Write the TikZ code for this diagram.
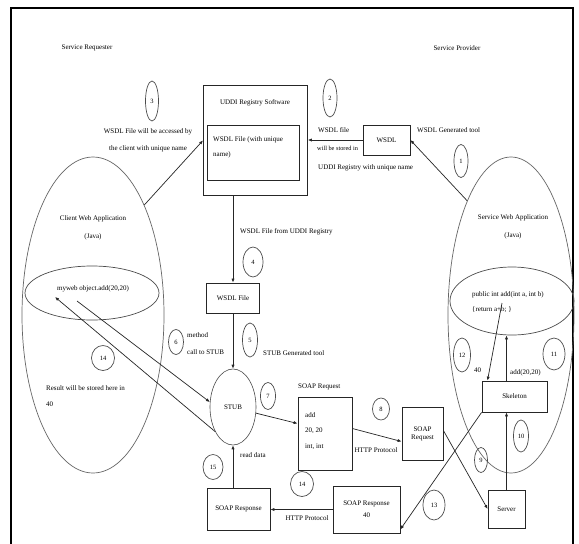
\documentclass[tikz,border=0pt]{standalone}
\usepackage{fontspec}
\setmainfont{Liberation Serif}
\usetikzlibrary{shapes.geometric,arrows.meta}
\begin{document}
\begin{tikzpicture}[x=1pt,y=-1pt,
 txt/.style={font=\fontsize{7}{8}\selectfont, inner sep=0pt},
 box/.style={draw=black!85, line width=0.8pt, inner sep=1pt, font=\fontsize{7}{8}\selectfont, align=center},
 badge/.style={draw=black!70, ellipse, line width=0.7pt, inner sep=0pt, font=\fontsize{6.5}{7}\selectfont},
 bigell/.style={draw=black!60, ellipse, line width=0.7pt, inner sep=0pt},
 arr/.style={draw=black!85, line width=0.7pt, -{Latex[length=4pt,width=3.2pt]}}]
\useasboundingbox (0,0) rectangle (579,544);
\clip (0,0) rectangle (579,544);
\fill[white] (0,0) rectangle (579,544);
\draw[line width=1.4pt] (11,8) rectangle (573,560);

% headings
\node[txt] (sreq) at (87,48) {Service Requester};
\node[txt] (sprov) at (457,48) {Service Provider};

% big ellipses
\node[bigell, minimum width=142, minimum height=316] (cweb) at (93,315) {};
\node[bigell, minimum width=126, minimum height=316] (sweb) at (511,315) {};
\node[txt] (cwebt1) at (93,219) {Client Web Application};
\node[txt] (cwebt2) at (93,237) {(Java)};
\node[txt] (swebt1) at (513,218) {Service Web Application};
\node[txt] (swebt2) at (513,236) {(Java)};

% inner ellipses
\node[bigell, draw=black!70, minimum width=134, minimum height=54] (cin) at (92,293) {};
\node[txt] (cint) at (93,289) {myweb object.add(20,20)};
\node[bigell, draw=black!70, minimum width=124, minimum height=68] (sin) at (512,301) {};
\node[txt, anchor=west] (sint1) at (472,295) {public int add(int a, int b)};
\node[txt, anchor=west] (sint2) at (472,310) {\{return a+b; \}};

% UDDI registry
\node[box, anchor=north west, minimum width=104, minimum height=110] (uddi) at (203,85) {};
\node[txt] (uddit) at (255,103) {UDDI Registry Software};
\node[box, anchor=north west, minimum width=92, minimum height=55] (uddiin) at (207,125) {};
\node[txt, anchor=north west, align=left, font=\fontsize{7}{15}\selectfont] (uddiint) at (213,136) {WSDL File (with unique\\name)};

% WSDL generation
\node[box, minimum width=47, minimum height=30] (wsdl) at (386.5,140) {WSDL};
\draw[arr] (wsdl.west) -- (wsdl.west -| uddi.east);
\node[txt, anchor=west] (l2a) at (318,130) {WSDL file};
\node[txt, anchor=west, font=\fontsize{6.3}{7}\selectfont] (l2b) at (317,148) {will be stored in};
\node[txt, anchor=west] (l2c) at (318,168) {UDDI Registry with unique name};
\node[txt, anchor=west] (l1) at (417,130) {WSDL Generated tool};
\node[badge, minimum width=14, minimum height=38] (b2) at (330,98) {2};
\draw[arr] (sweb.111) -- (wsdl.east);
\node[badge, minimum width=14, minimum height=33] (b1) at (461,161) {1};

% client access
\draw[arr] (cweb.65) -- (uddi.west);
\node[badge, minimum width=13, minimum height=40] (b3) at (152,101) {3};
\node[txt] (l3a) at (148,132) {WSDL File will be accessed by};
\node[txt] (l3b) at (148,149) {the client with unique name};

% WSDL file & STUB
\node[box, minimum width=53, minimum height=30] (wsdlf) at (233,298) {WSDL File};
\draw[arr] (uddi.south -| wsdlf.north) -- (wsdlf.north);
\node[txt, anchor=west] (l4) at (240,232) {WSDL File from UDDI Registry};
\node[badge, minimum width=20, minimum height=30] (b4) at (253,262) {4};
\node[draw=black!70, ellipse, line width=0.6pt, inner sep=0pt, minimum width=46, minimum height=76, font=\fontsize{7}{8}\selectfont] (stub) at (233,407) {STUB};
\draw[arr] (wsdlf.south) -- (stub.north);
\node[badge, minimum width=15, minimum height=34] (b5) at (250,340) {5};
\node[txt, anchor=west] (l5) at (263,353) {STUB Generated tool};

% method call / result
\coordinate (m6) at (77,301);
\coordinate (r15) at (55,297);
\draw[arr] (m6) -- (stub.168);
\draw[arr] (stub.234) -- (r15);
\node[badge, minimum width=15, minimum height=25] (b6) at (176,342) {6};
\node[txt, anchor=west] (l6a) at (187,335) {method};
\node[txt, anchor=west] (l6b) at (187,352) {call to STUB};
\node[badge, minimum width=23, minimum height=25] (b14a) at (103,358) {14};
\node[txt, anchor=west] (l14a) at (46,388) {Result will be stored here in};
\node[txt, anchor=west] (l14b) at (46,404) {40};

% SOAP request
\node[txt, anchor=west] (lsr) at (298,387) {SOAP Request};
\node[box, minimum width=54, minimum height=73] (soapreq) at (325,433.5) {};
\node[txt, anchor=north west, align=left, font=\fontsize{7}{15.5}\selectfont] (soapreqt) at (305,412) {add\\20, 20\\int, int};
\draw[arr] (stub.-15) -- ([yshift=10pt]soapreq.west);
\node[badge, minimum width=15, minimum height=27] (b7) at (268,396) {7};
\node[box, minimum width=41, minimum height=53] (soapreq2) at (422.5,433.5) {SOAP\\Request};
\draw[arr] ([yshift=5pt]soapreq.east) -- ([yshift=-8pt]soapreq2.west);
\node[txt] (l8) at (376,450) {HTTP Protocol};
\node[badge, minimum width=17, minimum height=22] (b8) at (381,409) {8};

% server side
\node[box, minimum width=37, minimum height=38] (server) at (506.5,509) {Server};
\node[box, minimum width=65, minimum height=31] (skel) at (514.5,396.5) {Skeleton};
\draw[arr] ([yshift=3pt]soapreq2.east) -- (server.west);
\node[badge, minimum width=13, minimum height=25] (b9) at (481,460) {9};
\draw[arr] (server.north) -- (server.north |- skel.south);
\node[badge, minimum width=15, minimum height=32] (b10) at (521,436) {10};
\coordinate (s11) at ([xshift=-8pt]skel.north);
\draw[arr] (s11) -- (s11 |- sin.south);
\node[txt, anchor=west] (l11) at (510,373) {add(20,20)};
\node[badge, minimum width=22, minimum height=32] (b11) at (554,354) {11};
\coordinate (r12) at (502,303);
\draw[arr] (r12) -- ([xshift=-27pt]skel.north);
\node[txt, anchor=west] (l12) at (474,370) {40};
\node[badge, minimum width=17, minimum height=34] (b12) at (462,355) {12};

% SOAP response
\node[box, minimum width=67, minimum height=47] (soapresp) at (366.5,509.5) {SOAP Response\\[4pt]40};
\node[box, minimum width=63, minimum height=42] (soaprespl) at (238.5,509) {SOAP Response};
\draw[arr] (skel.south west) -- ([yshift=4pt]soapresp.south east);
\node[badge, minimum width=22, minimum height=30] (b13) at (434,505) {13};
\draw[arr] (soapresp.west) -- (soapresp.west -| soaprespl.east);
\node[txt] (l14) at (307,518) {HTTP Protocol};
\node[badge, minimum width=23, minimum height=25] (b14) at (302,484) {14};
\draw[arr] (soaprespl.north -| stub.south) -- (stub.south);
\node[txt, anchor=west] (l15) at (240,455) {read data};
\node[badge, minimum width=20, minimum height=25] (b15) at (213,467) {15};
\end{tikzpicture}
\end{document}
